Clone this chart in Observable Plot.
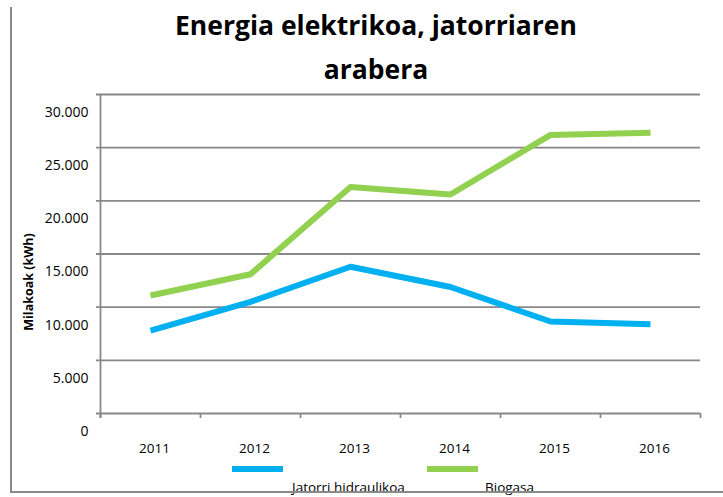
<!DOCTYPE html>
<html>
<head>
<meta charset="utf-8">
<script src="https://cdn.jsdelivr.net/npm/d3@7"></script>
<script src="https://cdn.jsdelivr.net/npm/@observablehq/plot@0.6"></script>
<style>
  html, body { margin: 0; padding: 0; background: #fff; }
  #wrap { position: relative; width: 723px; height: 497px; overflow: hidden; font-family: "Open Sans", sans-serif; }
  #chart { position: absolute; left: 0; top: 0; }
  #title { position: absolute; left: 126px; width: 500px; top: 3px; text-align: center; font-weight: 700; font-size: 26.5px; line-height: 44px; color: #000; }
  #ylabel { position: absolute; left: 28px; top: 282px; transform: translate(-50%, -50%) rotate(-90deg); font-weight: 700; font-size: 12.5px; white-space: nowrap; color: #000; }
  .border-left { position: absolute; left: 10px; top: 7px; width: 2px; height: 486px; background: #8a8a8a; }
  .border-bottom { position: absolute; left: 10px; top: 491px; width: 713px; height: 2px; background: #8a8a8a; }
  .sw { position: absolute; height: 6px; width: 51px; top: 466px; }
  .lt { position: absolute; top: 478px; font-size: 13.5px; line-height: 18px; color: #000; white-space: nowrap; }
</style>
</head>
<body>
<div id="wrap">
  <div id="chart"></div>
  <div id="title">Energia elektrikoa, jatorriaren<br>arabera</div>
  <div id="ylabel">Milakoak (kWh)</div>
  <div id="legend"></div>
  <div class="border-left"></div>
  <div class="border-bottom"></div>
</div>
<script>
const years = [2011, 2012, 2013, 2014, 2015, 2016];
const hidraulikoa = [7800, 10500, 13800, 11900, 8650, 8400];
const biogasa = [11100, 13100, 21300, 20600, 26200, 26400];
const yTicks = [0, 5000, 10000, 15000, 20000, 25000, 30000];
const seriesNames = ["Jatorri hidraulikoa", "Biogasa"];
const seriesColors = ["#00B0F0", "#92D050"];

const rows = [];
years.forEach((yr, i) => {
  rows.push({year: yr, value: hidraulikoa[i], series: seriesNames[0]});
});
years.forEach((yr, i) => {
  rows.push({year: yr, value: biogasa[i], series: seriesNames[1]});
});
// category boundaries (band edges) derived from the years
const boundaries = years.map(y => y - 0.5).concat([years[years.length - 1] + 0.5]);
const fmt = d => d === 0 ? "0" : d3.format(",")(d).replace(/,/g, ".");
const gray = "#888888";

const chart = Plot.plot({
  width: 723,
  height: 497,
  marginTop: 94,
  marginBottom: 84,
  marginLeft: 100,
  marginRight: 23,
  style: {fontFamily: "Open Sans, sans-serif", color: "#000", background: "transparent"},
  x: {type: "linear", domain: [boundaries[0], boundaries[boundaries.length - 1]]},
  y: {domain: [0, 30000]},
  color: {domain: seriesNames, range: seriesColors},
  marks: [
    Plot.ruleY(yTicks, {y: d => d, stroke: gray, strokeWidth: 1.8, insetLeft: -4}),
    Plot.ruleX([boundaries[0]], {x: d => d, stroke: gray, strokeWidth: 1.8, insetBottom: -5}),
    Plot.ruleX(boundaries, {x: d => d, y1: 0, y2: 0, insetBottom: -5, stroke: gray, strokeWidth: 1.8}),
    Plot.axisY({ticks: yTicks, tickSize: 0, tickPadding: 12, dy: 18, tickFormat: fmt, label: null, fontSize: 14}),
    Plot.axisX({ticks: years, tickSize: 0, tickPadding: 30, dx: 4, tickFormat: d => String(d), label: null, fontSize: 13.5}),
    Plot.line(rows, {x: "year", y: "value", z: "series", stroke: "series", strokeWidth: 6, strokeLinejoin: "round", strokeLinecap: "butt"})
  ]
});
document.getElementById("chart").appendChild(chart);

// legend
const legend = document.getElementById("legend");
const swLeft = [232, 427];
const txtLeft = [292, 485];
seriesNames.forEach((name, i) => {
  const sw = document.createElement("div");
  sw.className = "sw";
  sw.style.left = swLeft[i] + "px";
  sw.style.background = seriesColors[i];
  legend.appendChild(sw);
  const t = document.createElement("div");
  t.className = "lt";
  t.style.left = txtLeft[i] + "px";
  t.textContent = name;
  legend.appendChild(t);
});
</script>
</body>
</html>
